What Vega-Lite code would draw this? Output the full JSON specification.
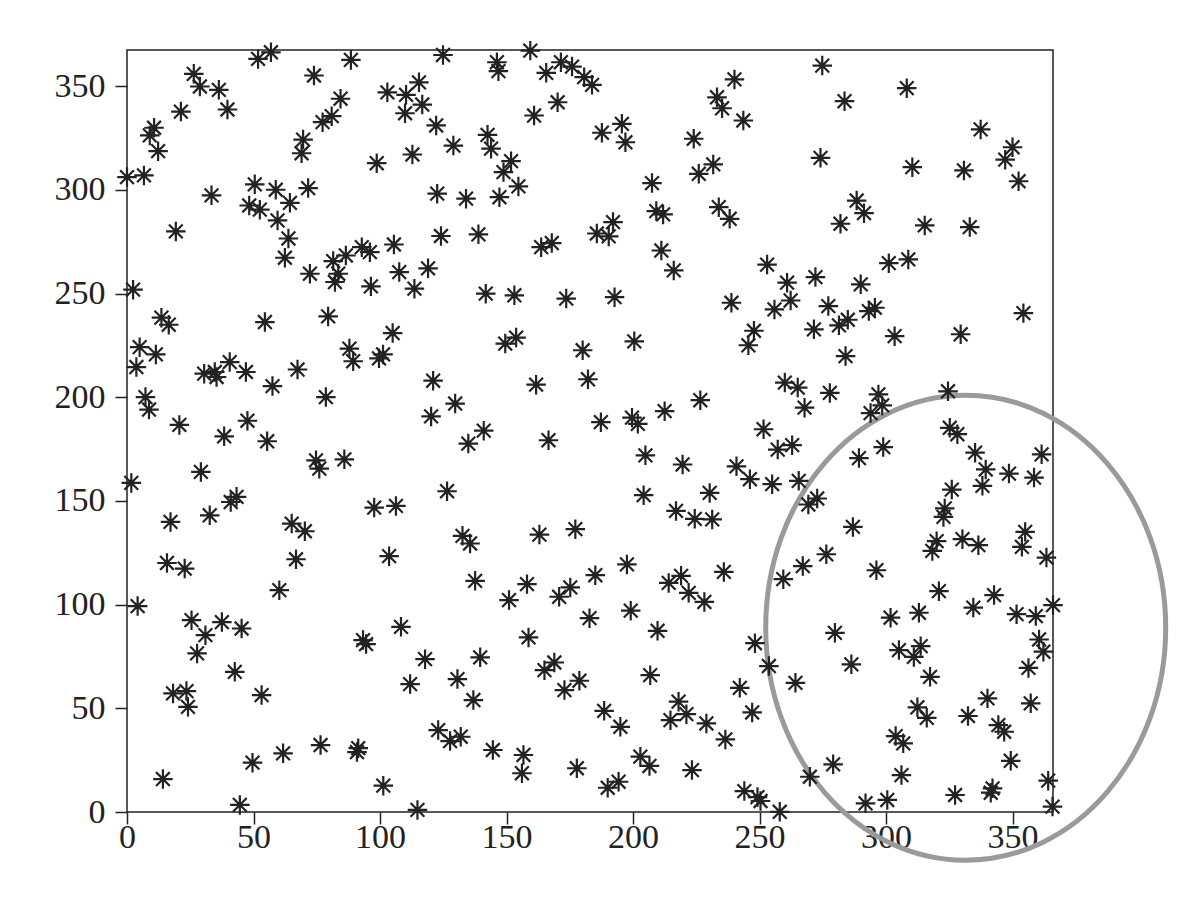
{
  "$schema": "https://vega.github.io/schema/vega-lite/v6.json",
  "width": 926,
  "height": 762,
  "autosize": {"type": "none"},
  "padding": {"left": 127, "top": 50, "right": 138, "bottom": 92},
  "background": "white",
  "config": {
    "view": {"stroke": "#222", "strokeWidth": 1.5},
    "font": "Liberation Serif",
    "axis": {"grid": false, "domain": false, "title": null, "tickSize": 12, "tickWidth": 1.5, "tickColor": "#222", "labelFont": "Liberation Serif", "labelFontSize": 34, "labelColor": "#222", "labelFlush": false, "labelOverlap": false},
    "axisX": {"labelPadding": -4},
    "axisY": {"labelPadding": 10}
  },
  "layer": [
    {
      "data": {"values": [{"x": 331.5, "y": 88.9}]},
      "mark": {"type": "point", "shape": "M-1,0A1,1.1625 0 1,1 1,0A1,1.1625 0 1,1 -1,0Z", "size": 160000, "filled": false, "stroke": "#9a9a9a", "strokeWidth": 5, "opacity": 1},
      "encoding": {
        "x": {"field": "x", "type": "quantitative", "scale": {"domain": [0, 366], "nice": false, "zero": false}, "axis": {"values": [0, 50, 100, 150, 200, 250, 300, 350]}},
        "y": {"field": "y", "type": "quantitative", "scale": {"domain": [0, 367.5], "nice": false, "zero": false}, "axis": {"values": [0, 50, 100, 150, 200, 250, 300, 350]}}
      }
    },
    {
      "data": {"values": [
        {"x":51.8,"y":363.2},{"x":56.9,"y":366.4},{"x":88.5,"y":362.7},{"x":124.9,"y":365.1},{"x":26.4,"y":356.0},{"x":28.8,"y":349.9},{"x":36.3,"y":348.3},{"x":39.7,"y":338.8},{"x":21.3,"y":337.8},{"x":73.9,"y":355.2},
        {"x":84.4,"y":344.0},{"x":80.9,"y":335.6},{"x":77.3,"y":332.7},{"x":69.6,"y":324.3},{"x":69.0,"y":317.7},{"x":102.9,"y":347.1},{"x":110.3,"y":345.9},{"x":115.4,"y":351.9},{"x":116.7,"y":341.2},{"x":109.9,"y":337.0},
        {"x":122.2,"y":331.1},{"x":112.8,"y":317.1},{"x":98.7,"y":312.9},{"x":10.7,"y":330.0},{"x":9.0,"y":326.3},{"x":12.3,"y":318.7},{"x":0.0,"y":306.2},{"x":6.7,"y":307.0},{"x":33.4,"y":297.4},{"x":50.5,"y":302.7},
        {"x":58.8,"y":300.1},{"x":71.6,"y":300.9},{"x":48.3,"y":292.5},{"x":52.5,"y":290.5},{"x":64.4,"y":293.8},{"x":59.5,"y":285.3},{"x":122.6,"y":298.2},{"x":19.3,"y":280.0},{"x":63.8,"y":276.6},{"x":105.5,"y":273.7},
        {"x":124.1,"y":277.8},{"x":146.2,"y":361.6},{"x":146.8,"y":357.3},{"x":159.4,"y":367.2},{"x":165.7,"y":356.5},{"x":171.5,"y":361.6},{"x":175.9,"y":359.5},{"x":180.7,"y":354.4},{"x":183.8,"y":350.7},{"x":170.2,"y":342.3},
        {"x":160.9,"y":335.9},{"x":240.1,"y":353.3},{"x":233.2,"y":344.7},{"x":235.2,"y":339.4},{"x":243.6,"y":333.5},{"x":129.0,"y":321.4},{"x":142.5,"y":326.6},{"x":143.9,"y":319.9},{"x":151.8,"y":313.9},{"x":148.8,"y":308.6},
        {"x":154.7,"y":301.7},{"x":147.2,"y":296.5},{"x":134.0,"y":295.8},{"x":187.7,"y":327.6},{"x":195.6,"y":331.9},{"x":197.0,"y":323.0},{"x":224.0,"y":324.7},{"x":231.7,"y":312.3},{"x":226.0,"y":307.8},{"x":207.5,"y":303.3},
        {"x":209.2,"y":289.8},{"x":211.9,"y":288.2},{"x":233.9,"y":291.7},{"x":238.2,"y":286.1},{"x":192.1,"y":284.5},{"x":185.7,"y":279.0},{"x":190.4,"y":277.6},{"x":138.9,"y":278.6},{"x":167.9,"y":274.4},{"x":274.8,"y":360.0},
        {"x":283.6,"y":342.8},{"x":308.2,"y":349.1},{"x":337.4,"y":329.2},{"x":350.0,"y":320.6},{"x":347.1,"y":314.6},{"x":352.4,"y":304.2},{"x":274.1,"y":315.5},{"x":310.4,"y":311.0},{"x":330.8,"y":309.4},{"x":288.4,"y":294.9},
        {"x":291.3,"y":288.8},{"x":282.0,"y":283.7},{"x":315.3,"y":282.9},{"x":333.1,"y":282.1},
        {"x":62.4,"y":267.3},{"x":72.3,"y":259.6},{"x":81.5,"y":265.7},{"x":86.5,"y":268.4},{"x":92.8,"y":272.4},{"x":96.0,"y":270.0},{"x":83.5,"y":259.6},{"x":82.2,"y":255.6},{"x":96.4,"y":253.5},{"x":107.6,"y":260.4},
        {"x":113.6,"y":252.4},{"x":119.0,"y":262.2},{"x":2.4,"y":251.9},{"x":13.6,"y":238.4},{"x":16.5,"y":235.0},{"x":54.5,"y":236.3},{"x":79.5,"y":239.0},{"x":105.0,"y":231.0},{"x":5.0,"y":224.2},{"x":11.4,"y":220.7},
        {"x":3.7,"y":214.6},{"x":30.5,"y":211.4},{"x":34.7,"y":212.2},{"x":35.4,"y":209.8},{"x":40.6,"y":217.0},{"x":47.0,"y":212.2},{"x":57.5,"y":205.4},{"x":67.4,"y":213.4},{"x":87.9,"y":223.5},{"x":89.4,"y":217.4},
        {"x":99.6,"y":218.8},{"x":101.2,"y":220.7},{"x":121.0,"y":208.0},{"x":7.3,"y":200.1},{"x":8.7,"y":194.1},{"x":20.7,"y":186.7},{"x":47.6,"y":188.7},{"x":78.6,"y":200.1},{"x":120.2,"y":190.8},{"x":38.4,"y":181.2},
        {"x":163.7,"y":272.4},{"x":211.2,"y":270.8},{"x":216.1,"y":261.2},{"x":141.8,"y":250.0},{"x":153.1,"y":249.2},{"x":173.6,"y":247.6},{"x":192.7,"y":248.3},{"x":238.9,"y":245.6},{"x":247.8,"y":232.1},{"x":245.6,"y":225.1},
        {"x":149.5,"y":225.9},{"x":153.8,"y":228.8},{"x":180.1,"y":222.7},{"x":200.5,"y":227.0},{"x":129.7,"y":197.0},{"x":161.7,"y":206.1},{"x":182.2,"y":208.7},{"x":141.0,"y":183.9},{"x":187.3,"y":188.0},{"x":199.6,"y":190.2},
        {"x":201.9,"y":187.2},{"x":212.5,"y":193.3},{"x":226.6,"y":198.6},{"x":251.6,"y":184.6},{"x":253.0,"y":264.0},{"x":260.9,"y":255.3},{"x":262.3,"y":246.7},{"x":255.9,"y":242.4},{"x":272.1,"y":258.0},{"x":290.0,"y":254.5},
        {"x":301.1,"y":264.7},{"x":308.8,"y":266.5},{"x":277.2,"y":244.0},{"x":284.9,"y":237.4},{"x":281.4,"y":234.7},{"x":271.5,"y":232.8},{"x":293.2,"y":241.6},{"x":295.6,"y":243.2},{"x":303.4,"y":229.5},{"x":329.5,"y":230.4},
        {"x":354.3,"y":240.6},{"x":284.0,"y":219.9},{"x":260.0,"y":207.1},{"x":265.1,"y":204.7},{"x":277.8,"y":202.1},{"x":267.8,"y":195.0},{"x":297.0,"y":201.4},{"x":298.5,"y":196.1},{"x":293.9,"y":192.4},{"x":324.5,"y":202.9},
        {"x":325.2,"y":185.3},
        {"x":55.4,"y":178.8},{"x":29.2,"y":164.0},{"x":1.7,"y":158.7},{"x":74.7,"y":169.6},{"x":76.0,"y":165.6},{"x":85.9,"y":170.1},{"x":126.5,"y":154.7},{"x":43.3,"y":152.0},{"x":41.0,"y":149.5},{"x":32.7,"y":143.1},
        {"x":17.2,"y":139.9},{"x":65.1,"y":139.1},{"x":70.3,"y":135.4},{"x":97.7,"y":146.8},{"x":106.3,"y":147.6},{"x":15.8,"y":120.1},{"x":22.8,"y":117.4},{"x":66.8,"y":121.9},{"x":103.6,"y":123.4},{"x":60.2,"y":107.0},
        {"x":4.2,"y":99.3},{"x":25.5,"y":92.5},{"x":37.5,"y":91.6},{"x":134.9,"y":177.7},{"x":166.6,"y":179.3},{"x":204.9,"y":172.0},{"x":219.6,"y":167.6},{"x":240.9,"y":166.7},{"x":246.2,"y":160.5},{"x":204.2,"y":152.8},
        {"x":230.3,"y":153.9},{"x":217.0,"y":145.2},{"x":224.4,"y":141.4},{"x":231.3,"y":141.1},{"x":132.6,"y":133.2},{"x":135.6,"y":129.5},{"x":163.0,"y":133.8},{"x":177.2,"y":136.4},{"x":197.6,"y":119.4},{"x":235.9,"y":115.8},
        {"x":137.6,"y":111.5},{"x":151.0,"y":102.2},{"x":158.1,"y":109.9},{"x":175.2,"y":108.3},{"x":170.8,"y":103.8},{"x":185.1,"y":114.2},{"x":214.1,"y":110.5},{"x":219.0,"y":113.9},{"x":222.0,"y":105.7},{"x":228.2,"y":101.3},
        {"x":182.8,"y":93.5},{"x":199.1,"y":97.1},{"x":257.2,"y":174.8},{"x":262.9,"y":176.9},{"x":255.0,"y":158.1},{"x":265.5,"y":159.7},{"x":269.3,"y":148.3},{"x":272.8,"y":151.2},{"x":289.3,"y":170.7},{"x":298.9,"y":176.0},
        {"x":328.2,"y":182.2},{"x":335.2,"y":173.3},{"x":339.4,"y":165.2},{"x":338.1,"y":157.3},{"x":348.6,"y":163.2},{"x":358.5,"y":161.3},{"x":361.5,"y":172.5},{"x":326.0,"y":155.5},{"x":323.2,"y":146.4},{"x":322.7,"y":142.3},
        {"x":286.9,"y":137.5},{"x":320.0,"y":130.6},{"x":318.3,"y":125.9},{"x":330.2,"y":131.6},{"x":336.5,"y":128.7},{"x":355.0,"y":135.1},{"x":353.7,"y":127.9},{"x":363.4,"y":122.7},{"x":276.4,"y":124.3},{"x":267.1,"y":118.6},
        {"x":259.4,"y":112.3},{"x":296.2,"y":116.6},{"x":320.9,"y":106.5},{"x":342.7,"y":104.6},{"x":334.5,"y":98.6},{"x":313.0,"y":96.1},{"x":301.8,"y":93.7},{"x":351.6,"y":95.4},{"x":359.2,"y":94.5},{"x":366.0,"y":99.8},
        {"x":31.0,"y":85.3},{"x":45.3,"y":88.5},{"x":27.7,"y":76.5},{"x":42.6,"y":67.6},{"x":18.2,"y":57.2},{"x":23.5,"y":58.3},{"x":24.1,"y":50.7},{"x":53.2,"y":56.4},{"x":93.3,"y":82.9},{"x":94.5,"y":81.0},
        {"x":108.3,"y":89.3},{"x":117.8,"y":73.7},{"x":111.9,"y":61.7},{"x":123.0,"y":39.5},{"x":14.2,"y":15.9},{"x":49.6,"y":23.8},{"x":61.7,"y":28.3},{"x":76.5,"y":32.3},{"x":91.4,"y":30.8},{"x":90.9,"y":28.9},
        {"x":101.3,"y":12.7},{"x":44.6,"y":3.4},{"x":114.8,"y":1.0},{"x":209.7,"y":87.4},{"x":248.2,"y":81.4},{"x":158.7,"y":84.2},{"x":139.6,"y":74.6},{"x":130.6,"y":64.1},{"x":136.9,"y":54.0},{"x":165.0,"y":68.4},
        {"x":168.9,"y":72.1},{"x":178.8,"y":63.3},{"x":172.9,"y":58.8},{"x":206.8,"y":66.0},{"x":188.6,"y":48.8},{"x":195.0,"y":41.1},{"x":218.0,"y":53.2},{"x":221.1,"y":47.2},{"x":214.8,"y":44.3},{"x":229.0,"y":42.7},
        {"x":236.5,"y":35.0},{"x":242.2,"y":59.9},{"x":247.1,"y":48.0},{"x":127.7,"y":34.2},{"x":131.9,"y":36.3},{"x":144.6,"y":29.9},{"x":156.7,"y":27.5},{"x":156.1,"y":18.7},{"x":177.8,"y":21.1},{"x":190.0,"y":11.7},
        {"x":194.3,"y":14.6},{"x":202.9,"y":26.7},{"x":206.5,"y":22.2},{"x":223.3,"y":20.2},{"x":244.0,"y":10.1},{"x":249.2,"y":7.2},{"x":250.4,"y":5.3},{"x":279.8,"y":86.4},{"x":253.7,"y":70.4},{"x":264.2,"y":62.3},
        {"x":286.3,"y":71.2},{"x":305.1,"y":78.1},{"x":313.7,"y":80.0},{"x":311.0,"y":74.8},{"x":317.4,"y":65.2},{"x":360.5,"y":83.2},{"x":362.2,"y":77.3},{"x":356.3,"y":69.5},{"x":312.4,"y":50.5},{"x":316.1,"y":45.4},
        {"x":332.4,"y":46.3},{"x":340.1,"y":54.8},{"x":357.2,"y":52.4},{"x":344.4,"y":41.9},{"x":346.7,"y":38.7},{"x":303.8,"y":36.6},{"x":306.8,"y":33.1},{"x":349.3,"y":24.7},{"x":279.1,"y":23.0},{"x":269.9,"y":17.0},
        {"x":306.1,"y":17.8},{"x":327.3,"y":8.2},{"x":342.1,"y":11.4},{"x":341.4,"y":9.3},{"x":364.1,"y":15.1},{"x":365.8,"y":2.6},{"x":258.0,"y":0.1},{"x":291.9,"y":4.2},{"x":300.5,"y":5.8}
      ]},
      "mark": {"type": "point", "shape": "M0,-1L0,1M-1,0L1,0M-0.707,-0.707L0.707,0.707M-0.707,0.707L0.707,-0.707", "size": 380, "filled": false, "stroke": "#222", "strokeWidth": 2.2, "opacity": 1},
      "encoding": {
        "x": {"field": "x", "type": "quantitative", "scale": {"domain": [0, 366], "nice": false, "zero": false}, "axis": {"values": [0, 50, 100, 150, 200, 250, 300, 350]}},
        "y": {"field": "y", "type": "quantitative", "scale": {"domain": [0, 367.5], "nice": false, "zero": false}, "axis": {"values": [0, 50, 100, 150, 200, 250, 300, 350]}}
      }
    }
  ]
}
